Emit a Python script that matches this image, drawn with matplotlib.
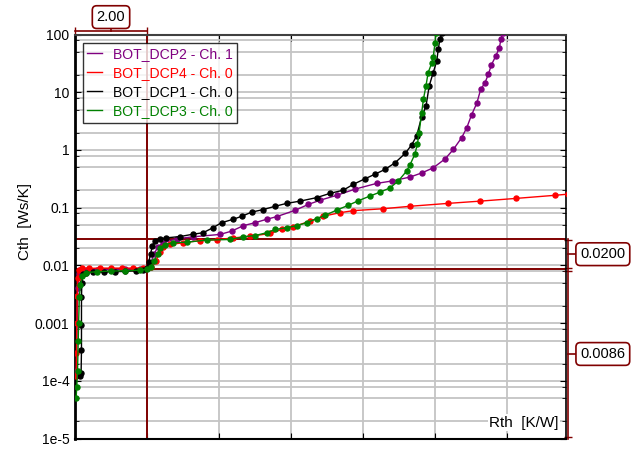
import matplotlib
matplotlib.use("Agg")
import matplotlib.pyplot as plt
import numpy as np
from matplotlib.ticker import LogLocator, NullFormatter, FixedLocator

plt.rcParams['font.family'] = ['Liberation Sans', 'DejaVu Sans']

# ---------------- data ----------------
labels = ["BOT_DCP2 - Ch. 1", "BOT_DCP4 - Ch. 0", "BOT_DCP1 - Ch. 0", "BOT_DCP3 - Ch. 0"]
colors = ["#800080", "#ff0000", "#000000", "#008000"]

purple_x = [0.04, 0.06, 0.08, 0.10, 0.15, 0.3, 0.6, 1.0, 1.4, 1.8, 2.0, 2.1, 2.2, 2.3, 2.45, 2.82, 3.29,
            4.03, 4.35, 4.68, 5.0, 5.32, 5.6, 6.11, 6.48, 6.81, 7.27, 7.78, 8.38, 8.8, 9.31, 9.63, 9.95,
            10.28, 10.51, 10.74, 10.88, 11.02, 11.16, 11.27, 11.39, 11.48, 11.57, 11.69, 11.79, 11.83, 11.88]
purple_y = [1.5e-4, 1e-3, 4e-3, 7e-3, 8.3e-3, 8.5e-3, 8.5e-3, 8.5e-3, 8.6e-3, 8.7e-3, 9e-3, 0.011, 0.016, 0.021,
            0.0247, 0.029, 0.0314, 0.0345, 0.0393, 0.049, 0.055, 0.063, 0.070, 0.090, 0.114, 0.135, 0.164, 0.21,
            0.264, 0.29, 0.34, 0.40, 0.49, 0.70, 1.02, 1.63, 2.4, 4.1, 6.4, 11.2, 14.6, 20.3, 30, 42.5, 59, 82, 105]

red_x = [0.03, 0.04, 0.05, 0.06, 0.07, 0.10, 0.2, 0.4, 0.7, 1.0, 1.3, 1.6, 1.9, 2.1, 2.25, 2.35, 2.45, 2.64,
         3.0, 3.47, 3.94, 4.4, 4.86, 5.42, 5.74, 6.06, 6.53, 6.9, 7.36, 7.73, 8.56, 9.31, 10.37, 11.25, 12.25,
         13.33, 13.7]
red_y = [1.2e-4, 3e-4, 1e-3, 3e-3, 6e-3, 8.5e-3, 8.9e-3, 8.9e-3, 9.0e-3, 9.0e-3, 9.0e-3, 9.0e-3, 9.1e-3, 9.5e-3,
         0.012, 0.017, 0.021, 0.0231, 0.0247, 0.027, 0.028, 0.030, 0.032, 0.0358, 0.042, 0.0467, 0.0587, 0.0714,
         0.082, 0.089, 0.096, 0.106, 0.119, 0.130, 0.145, 0.164, 0.172]

black_x = [0.15, 0.17, 0.18, 0.18, 0.18, 0.19, 0.22, 0.3, 0.5, 0.8, 1.1, 1.4, 1.7, 1.9, 2.0, 2.05, 2.1, 2.15,
           2.22, 2.35, 2.52, 2.92, 3.28, 3.56, 3.83, 4.07, 4.39, 4.63, 4.91, 5.23, 5.56, 5.88, 6.25, 6.71, 7.08,
           7.45, 7.73, 8.06, 8.33, 8.61, 8.89, 9.17, 9.35, 9.49, 9.63, 9.75, 9.84, 9.95, 10.05, 10.09, 10.14, 10.2]
black_y = [1.2e-4, 1.4e-4, 3.5e-4, 9.5e-4, 2.8e-3, 5e-3, 7e-3, 7.5e-3, 7.6e-3, 7.7e-3, 7.8e-3, 7.9e-3, 8.1e-3,
           8.5e-3, 9e-3, 0.0115, 0.016, 0.022, 0.027, 0.029, 0.030, 0.0317, 0.0348, 0.0369, 0.045, 0.055, 0.063,
           0.071, 0.084, 0.093, 0.106, 0.119, 0.130, 0.1495, 0.177, 0.201, 0.254, 0.318, 0.38, 0.46, 0.60, 0.87,
           1.22, 1.75, 3.75, 5.7, 12.9, 21.8, 34.7, 55, 85, 105]

green_x = [0.03, 0.05, 0.07, 0.09, 0.10, 0.12, 0.15, 0.2, 0.3, 0.6, 1.0, 1.4, 1.8, 2.0, 2.1, 2.2, 2.3, 2.36,
           2.5, 2.73, 3.1, 3.66, 4.31, 4.68, 5.0, 5.32, 5.56, 5.88, 6.16, 6.44, 6.71, 6.94, 7.27, 7.59, 7.87,
           8.19, 8.47, 8.75, 8.98, 9.21, 9.31, 9.44, 9.51, 9.56, 9.63, 9.68, 9.75, 9.81, 9.91, 9.95, 10.0, 10.03]
green_y = [5e-5, 8e-5, 1.5e-4, 5e-4, 1e-3, 2.8e-3, 4.5e-3, 6.5e-3, 7.5e-3, 7.8e-3, 8.0e-3, 8.1e-3, 8.3e-3,
           8.6e-3, 9.5e-3, 0.012, 0.016, 0.020, 0.023, 0.0247, 0.0253, 0.0275, 0.0282, 0.0314, 0.0330, 0.0368,
           0.042, 0.045, 0.049, 0.055, 0.0645, 0.0735, 0.091, 0.110, 0.132, 0.159, 0.186, 0.22, 0.29, 0.43, 0.56,
           0.84, 1.25, 2.0, 4.4, 7.6, 12.9, 21.8, 32, 40, 71, 105]

series_x = [purple_x, red_x, black_x, green_x]
series_y = [purple_y, red_y, black_y, green_y]

cursor_x = [0.0, 2.0]
cursor_y = [0.0086, 0.0286]
dx_label = "2.00"
dy_labels = ["0.0200", "0.0086"]

# ---------------- figure ----------------
fig = plt.figure(figsize=(6.41, 4.5), dpi=100)
ax = fig.add_axes([75/641, 1-438.7/450, 491/641, 404.2/450])
ax.set_yscale('log')
ax.set_xlim(0, 13.64)
ax.set_ylim(1e-5, 100)

ax.xaxis.set_major_locator(FixedLocator(np.arange(0, 14, 2)))
ax.yaxis.set_major_locator(LogLocator(base=10, numticks=20))
ax.yaxis.set_minor_locator(LogLocator(base=10, subs=[2, 5, 8], numticks=20))
ax.yaxis.set_minor_formatter(NullFormatter())
ax.set_yticks([1e-5, 1e-4, 1e-3, 1e-2, 0.1, 1, 10, 100])
ax.set_yticklabels(["1e-5", "1e-4", "0.001", "0.01", "0.1", "1", "10", "100"])
ax.set_xticklabels([])
ax.tick_params(axis='both', which='both', direction='in', labelsize=10, colors='black')
ax.tick_params(axis='x', which='major', top=True, bottom=True, length=4)
ax.tick_params(axis='y', which='major', left=True, right=True, length=4, pad=4)
ax.tick_params(axis='y', which='minor', left=True, right=True, length=3)
ax.grid(True, which='both', color='#c4c4c4', linewidth=1.3)
ax.set_axisbelow(True)
for s in ['left', 'right', 'bottom', 'top']:
    ax.spines[s].set_color('black')
ax.spines['left'].set_linewidth(2.0)
ax.spines['bottom'].set_linewidth(1.5)
ax.spines['top'].set_linewidth(1.5)
ax.spines['top'].set_color('#404040')
ax.spines['right'].set_linewidth(1.2)

# cursor lines
dred = '#800000'
for cx in cursor_x:
    ax.axvline(cx, color=dred, linewidth=1.4, zorder=2)
for cy in cursor_y:
    ax.axhline(cy, color=dred, linewidth=1.4, zorder=2)

# curves
for x, y, c, lab in zip(series_x, series_y, colors, labels):
    ax.plot(x, y, color=c, linewidth=1.0, marker='o', markersize=3.6, label=lab, zorder=3)

# legend
leg = ax.legend(loc='upper left', bbox_to_anchor=(7.5/491, 1 - 8.5/404.2), fontsize=10.1, frameon=True,
                fancybox=False, borderpad=0.3, labelspacing=0.36, handlelength=1.1,
                handletextpad=0.75, borderaxespad=0.0)
leg.get_frame().set_edgecolor('black')
leg.get_frame().set_linewidth(1.0)
for txt, c in zip(leg.get_texts(), colors):
    txt.set_color(c)
for h in leg.legend_handles:
    h.set_marker('')

# axis labels
fig.text(25/641, 1-222/450, "Cth  [Ws/K]", rotation=90, ha='center', va='center', fontsize=11)
ax.text(0.985, 0.04, "Rth  [K/W]", transform=ax.transAxes, ha='right', va='center', fontsize=11,
        bbox=dict(facecolor='white', edgecolor='none', pad=1))

# top dimension (x cursor difference)
tx = ax.get_xaxis_transform()
ydim = 1.0087
ax.plot(cursor_x, [ydim, ydim], color=dred, linewidth=1.2, transform=tx, clip_on=False)
for cx in cursor_x:
    ax.plot([cx], [ydim], marker='|', markersize=6, color=dred, transform=tx, clip_on=False)
xm = (cursor_x[0] + cursor_x[1]) / 2
ax.plot([xm, xm], [ydim, 1.022], color=dred, linewidth=1.2, transform=tx, clip_on=False)
ax.text(xm, 1.043, dx_label, transform=tx, ha='center', va='center', fontsize=10.5,
        bbox=dict(facecolor='white', edgecolor=dred, boxstyle='round,pad=0.3', linewidth=1.2),
        clip_on=False)

# right dimension (y cursor values)
ty = ax.get_yaxis_transform()
xdim = 1.005
ax.plot([xdim, xdim], [1e-5, cursor_y[1]], color=dred, linewidth=1.2, transform=ty, clip_on=False)
for yy in [1.05e-5, cursor_y[0] * 0.95, cursor_y[0] * 1.05, cursor_y[1] * 0.97]:
    ax.plot([xdim], [yy], marker='_', markersize=6, color=dred, transform=ty, clip_on=False)
ymid1 = np.sqrt(cursor_y[0] * cursor_y[1])
ymid2 = np.sqrt(1e-5 * cursor_y[0])
for ym, lab in zip([ymid1, ymid2], dy_labels):
    ax.plot([xdim, 1.025], [ym, ym], color=dred, linewidth=1.2, transform=ty, clip_on=False)
    ax.text(1.075, ym, lab, transform=ty, ha='center', va='center', fontsize=10.5,
            bbox=dict(facecolor='white', edgecolor=dred, boxstyle='round,pad=0.3', linewidth=1.2),
            clip_on=False)

fig.savefig("out.png", dpi=100)
